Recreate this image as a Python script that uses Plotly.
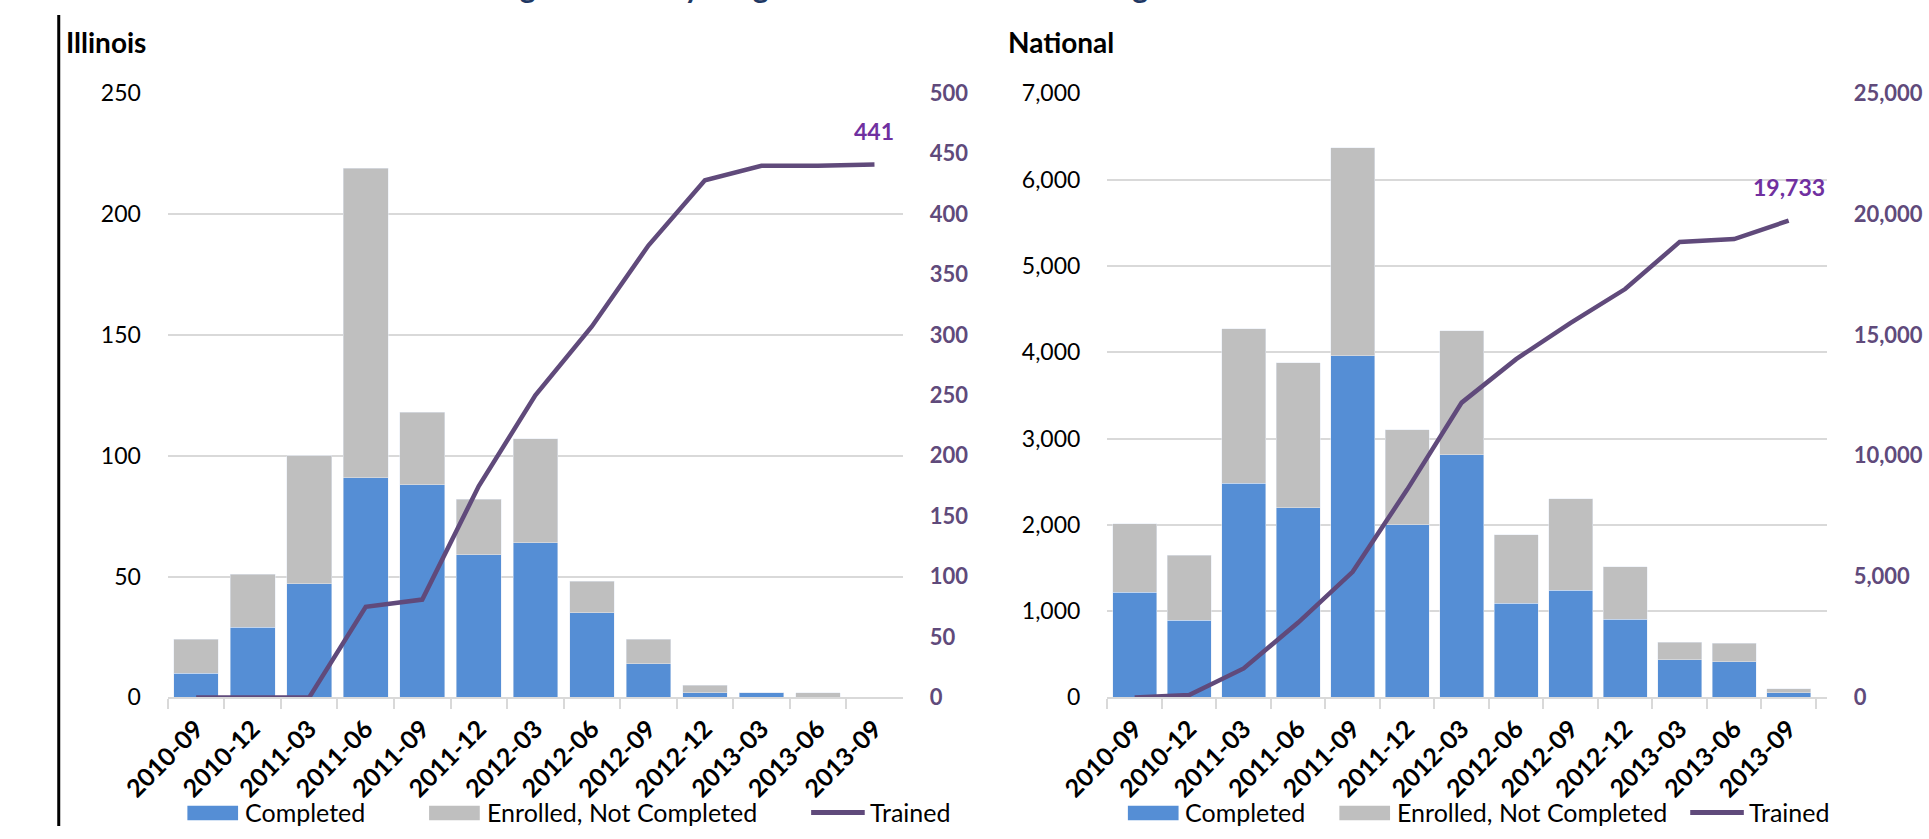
import plotly.graph_objects as go

# ---------------- data ----------------
quarters = ["2010-09", "2010-12", "2011-03", "2011-06", "2011-09", "2011-12", "2012-03",
            "2012-06", "2012-09", "2012-12", "2013-03", "2013-06", "2013-09"]

il_completed = [10, 29, 47, 91, 88, 59, 64, 35, 14, 2, 2, 0, 0]
il_enrolled_not_completed = [14, 22, 53, 128, 30, 23, 43, 13, 10, 3, 0, 2, 0]
il_trained = [0, 0, 0, 75, 81, 175, 250, 307, 374, 428, 440, 440, 441]

nat_completed = [1220, 895, 2480, 2200, 3960, 2000, 2810, 1090, 1240, 905, 438, 416, 56]
nat_enrolled_not_completed = [790, 750, 1790, 1680, 2410, 1100, 1440, 795, 1060, 610, 199, 213, 45]
nat_trained = [0, 100, 1200, 3100, 5200, 8600, 12200, 14000, 15500, 16900, 18850, 18970, 19733]

series_names = ["Completed", "Enrolled, Not Completed", "Trained"]
panel_titles = ["Illinois", "National"]
title_text = "Counselor Training: Enrolled by Program and Cumulative Training"

# ---------------- style ----------------
BLUE = "#558ED5"
GRAY = "#BFBFBF"
PURPLE = "#604A7B"
LABEL_PURPLE = "#7030A0"
GRID = "#D9D9D9"
FONT = "Lato, 'Open Sans', sans-serif"
W, H = 1929, 839


def px(x):
    return x / W


def py(y):
    return 1 - y / H


fig = go.Figure()

# Illinois
fig.add_bar(x=quarters, y=il_completed, name=series_names[0], marker_color=BLUE,
            width=0.79, xaxis="x", yaxis="y", showlegend=False)
fig.add_bar(x=quarters, y=il_enrolled_not_completed, name=series_names[1], marker_color=GRAY,
            width=0.79, xaxis="x", yaxis="y", showlegend=False)
fig.add_scatter(x=quarters, y=il_trained, name=series_names[2], mode="lines",
                line=dict(color=PURPLE, width=4.5), xaxis="x", yaxis="y2", showlegend=False)

# National
fig.add_bar(x=quarters, y=nat_completed, name=series_names[0], marker_color=BLUE,
            width=0.81, xaxis="x2", yaxis="y3", showlegend=False)
fig.add_bar(x=quarters, y=nat_enrolled_not_completed, name=series_names[1], marker_color=GRAY,
            width=0.81, xaxis="x2", yaxis="y3", showlegend=False)
fig.add_scatter(x=quarters, y=nat_trained, name=series_names[2], mode="lines",
                line=dict(color=PURPLE, width=4.5), xaxis="x2", yaxis="y4", showlegend=False)

ydom = [py(706), py(81)]

xcommon = dict(type="category", tickangle=-45,
               tickfont=dict(family=FONT, size=25, color="black", weight="bold"),
               showline=True, linecolor=GRID, linewidth=2,
               ticks="outside", tickson="boundaries", ticklen=10, tickcolor=GRID, tickwidth=2,
               ticklabelstandoff=5, showgrid=False, zeroline=False, fixedrange=True)
yleft = dict(showgrid=True, gridcolor=GRID, gridwidth=2, zeroline=False, showline=False,
             ticks="", ticklabelstandoff=26,
             tickfont=dict(family=FONT, size=23, color="black"), fixedrange=True)
yright = dict(showgrid=False, zeroline=False, showline=False, ticks="", ticklabelstandoff=26,
              side="right", tickfont=dict(family=FONT, size=22, color=PURPLE, weight="bold"),
              fixedrange=True)

fig.update_layout(
    width=W, height=H,
    margin=dict(l=0, r=0, t=0, b=0),
    paper_bgcolor="white", plot_bgcolor="white",
    barmode="stack",
    font=dict(family=FONT, color="black"),
    xaxis=dict(domain=[px(122), px(876)], anchor="y", **xcommon),
    yaxis=dict(domain=ydom, anchor="x", range=[0, 250], dtick=50, **yleft),
    yaxis2=dict(overlaying="y", anchor="x", range=[0, 500], dtick=50, **yright),
    xaxis2=dict(domain=[px(1086), px(1824)], anchor="y3", **xcommon),
    yaxis3=dict(domain=ydom, anchor="x2", range=[0, 7000], dtick=1000, tickformat=",", **yleft),
    yaxis4=dict(overlaying="y3", anchor="x2", range=[0, 25000], dtick=5000, tickformat=",", **yright),
)

annotations = [
    dict(x=quarters[-1], y=il_trained[-1], xref="x", yref="y2", yshift=34,
         text=f"{il_trained[-1]:,}", showarrow=False,
         font=dict(family=FONT, size=23, color=LABEL_PURPLE, weight="bold")),
    dict(x=quarters[-1], y=nat_trained[-1], xref="x2", yref="y4", yshift=34,
         text=f"{nat_trained[-1]:,}", showarrow=False,
         font=dict(family=FONT, size=23, color=LABEL_PURPLE, weight="bold")),
    dict(x=px(15), y=py(28), xref="paper", yref="paper", xanchor="left", yanchor="middle",
         text=panel_titles[0], showarrow=False,
         font=dict(family=FONT, size=28, color="black", weight="bold")),
    dict(x=px(982), y=py(28), xref="paper", yref="paper", xanchor="left", yanchor="middle",
         text=panel_titles[1], showarrow=False,
         font=dict(family=FONT, size=28, color="black", weight="bold")),
    # chart title: cropped at the top edge in the reference, only descenders visible
    dict(x=px(243), y=py(-30), xref="paper", yref="paper", xanchor="left", yanchor="middle",
         text=title_text, showarrow=False,
         font=dict(family=FONT, size=30, color="#1F3864", weight="bold")),
]

shapes = [
    dict(type="line", xref="paper", yref="paper", x0=px(10), x1=px(10), y0=0, y1=1,
         line=dict(color="black", width=3)),
]

# manual legends: (box1_x, box2_x, line_x) per panel
legend_pos = [(142, 390, 782), (1107, 1324, 1684)]
for bx1, bx2, lx in legend_pos:
    shapes.append(dict(type="rect", xref="paper", yref="paper", x0=px(bx1), x1=px(bx1 + 52),
                       y0=py(833), y1=py(818), fillcolor=BLUE, line=dict(width=0)))
    shapes.append(dict(type="rect", xref="paper", yref="paper", x0=px(bx2), x1=px(bx2 + 52),
                       y0=py(833), y1=py(818), fillcolor=GRAY, line=dict(width=0)))
    shapes.append(dict(type="line", xref="paper", yref="paper", x0=px(lx), x1=px(lx + 55),
                       y0=py(825), y1=py(825), line=dict(color=PURPLE, width=5)))
    for tx, name in [(bx1 + 57, series_names[0]), (bx2 + 57, series_names[1]), (lx + 58, series_names[2])]:
        annotations.append(dict(x=px(tx), y=py(825), xref="paper", yref="paper",
                                xanchor="left", yanchor="middle", text=name, showarrow=False,
                                font=dict(family=FONT, size=25, color="black")))

fig.update_layout(annotations=annotations, shapes=shapes)

fig.write_html("out.html", include_plotlyjs=True,
               config={"displayModeBar": False},
               post_script="document.body.style.margin='0';document.body.style.overflow='hidden';")
